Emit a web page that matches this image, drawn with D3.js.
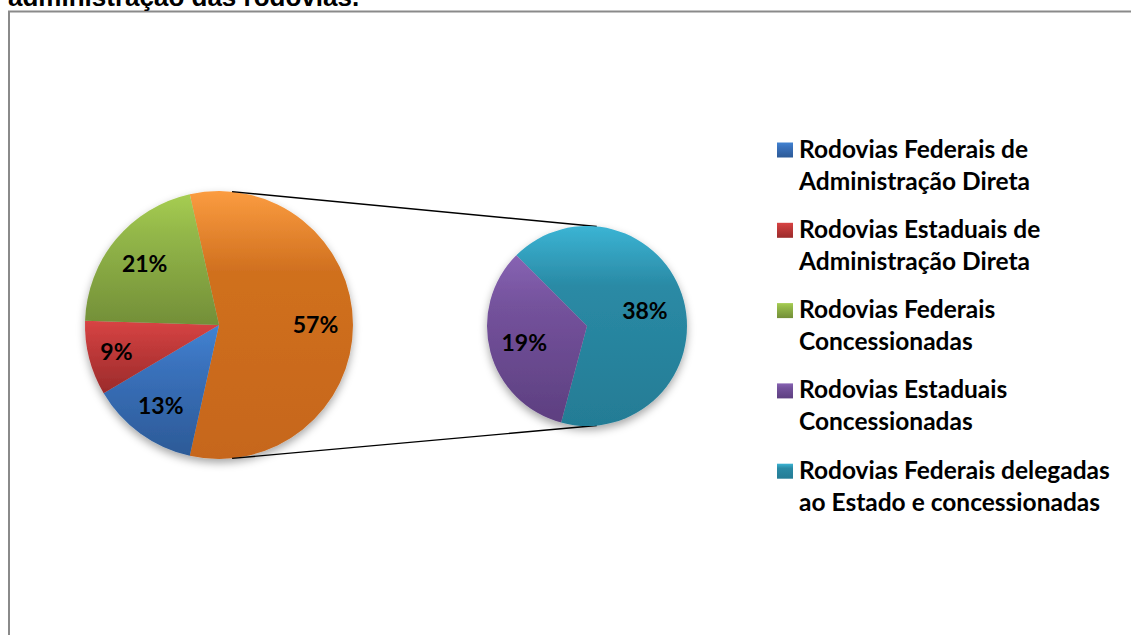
<!DOCTYPE html>
<html>
<head>
<meta charset="utf-8">
<script src="https://cdn.jsdelivr.net/npm/d3@7"></script>
<style>
  html, body { margin: 0; padding: 0; background: #ffffff; overflow: hidden; }
  svg { display: block; }
</style>
</head>
<body>
<svg id="chart" width="1131" height="635"></svg>
<script>
// ---- data ----
const categories = [
  "Rodovias Federais de Administração Direta",
  "Rodovias Estaduais de Administração Direta",
  "Rodovias Federais Concessionadas",
  "Rodovias Estaduais Concessionadas",
  "Rodovias Federais delegadas ao Estado e concessionadas"
];
const legendLines = [
  ["Rodovias Federais de", "Administração Direta"],
  ["Rodovias Estaduais de", "Administração Direta"],
  ["Rodovias Federais", "Concessionadas"],
  ["Rodovias Estaduais", "Concessionadas"],
  ["Rodovias Federais delegadas", "ao Estado e concessionadas"]
];
const values = [13, 9, 21, 19, 38];          // percent
const mainIdx = [0, 1, 2];                    // slices in first pie
const secondIdx = [4, 3];                     // slices in second pie (clockwise order)
const titleText = "administração das rodovias.";

// ---- styling ----
const colors = [
  ["#4283d2", "#3a72bd", "#2c5a97"],  // blue
  ["#d84444", "#c43b3b", "#9b2b2b"],  // red
  ["#a6cd52", "#93b749", "#738f38"],  // green
  ["#8763b3", "#74529c", "#5d3f80"],  // purple
  ["#3bb4d4", "#2a8aa5", "#247c95"]   // teal
];
const otherColor = ["#fb9c40", "#d0701f", "#c6661b"];

const svg = d3.select("#chart");
const defs = svg.append("defs");

function makeGrad(id, c) {
  const g = defs.append("linearGradient").attr("id", id)
    .attr("x1", 0).attr("y1", 0).attr("x2", 0).attr("y2", 1);
  g.append("stop").attr("offset", "0%").attr("stop-color", c[0]);
  g.append("stop").attr("offset", "30%").attr("stop-color", c[1]);
  g.append("stop").attr("offset", "100%").attr("stop-color", c[2]);
}
colors.forEach((c, i) => makeGrad("g" + i, c));
makeGrad("gOther", otherColor);

const shadow = defs.append("filter").attr("id", "shadow")
  .attr("x", "-20%").attr("y", "-20%").attr("width", "140%").attr("height", "150%");
shadow.append("feDropShadow").attr("dx", 0).attr("dy", 4)
  .attr("stdDeviation", 4).attr("flood-color", "#000").attr("flood-opacity", 0.35);

// frame + title
svg.append("rect").attr("x", 9).attr("y", 11.5).attr("width", 1200).attr("height", 700)
  .attr("fill", "none").attr("stroke", "#8a8a8a").attr("stroke-width", 2);
svg.append("text").attr("x", 8).attr("y", 6)
  .attr("font-family", "Liberation Sans, Arial, sans-serif")
  .attr("font-weight", "bold").attr("font-size", 26).attr("fill", "#000")
  .text(titleText);

const deg = Math.PI / 180;
const labelFont = "Lato, 'Open Sans', sans-serif";

// ---- first pie ----
const c1 = { x: 219, y: 325, r: 134 };
const otherValue = d3.sum(secondIdx, i => values[i]);
const pie1Data = [{ v: otherValue, idx: -1 }].concat(mainIdx.map(i => ({ v: values[i], idx: i })));
const start1 = 90 * deg - Math.PI * (otherValue / 100); // center "other" slice at 3 o'clock
const pie1 = d3.pie().sort(null).value(d => d.v).startAngle(start1).endAngle(start1 + 2 * Math.PI);
const arcs1 = pie1(pie1Data);
const arc1 = d3.arc().innerRadius(0).outerRadius(c1.r);

const g1 = svg.append("g").attr("transform", `translate(${c1.x},${c1.y})`);
g1.append("g").attr("filter", "url(#shadow)")
  .selectAll("path").data(arcs1).join("path")
  .attr("d", arc1)
  .attr("fill", d => d.data.idx < 0 ? "url(#gOther)" : `url(#g${d.data.idx})`);

const labR1 = [0.72, 0.74, 0.79, 0.72];
g1.selectAll("text").data(arcs1).join("text")
  .attr("transform", (d, i) => {
    const r = c1.r * labR1[i];
    return `translate(${d3.arc().innerRadius(r).outerRadius(r).centroid(d)})`;
  })
  .attr("text-anchor", "middle").attr("dy", "0.36em")
  .attr("font-family", labelFont).attr("font-weight", 700).attr("font-size", 23)
  .attr("fill", "#000")
  .text(d => d.data.v + "%");

// ---- second pie ----
const c2 = { x: 587, y: 326, r: 100 };
const pie2Data = secondIdx.map(i => ({ v: values[i], idx: i }));
const start2 = -45 * deg;
const pie2 = d3.pie().sort(null).value(d => d.v).startAngle(start2).endAngle(start2 + 2 * Math.PI);
const arcs2 = pie2(pie2Data);
const arc2 = d3.arc().innerRadius(0).outerRadius(c2.r);

// connector lines
const connAng = 5.6 * deg;
const pt = (c, a) => [c.x + c.r * Math.sin(a), c.y - c.r * Math.cos(a)];
[[connAng, connAng], [Math.PI - connAng, Math.PI - connAng]].forEach(([a1, a2]) => {
  const p1 = pt(c1, a1), p2 = pt(c2, a2);
  svg.append("line").attr("x1", p1[0]).attr("y1", p1[1]).attr("x2", p2[0]).attr("y2", p2[1])
    .attr("stroke", "#000").attr("stroke-width", 1.4);
});

const g2 = svg.append("g").attr("transform", `translate(${c2.x},${c2.y})`);
g2.append("g").attr("filter", "url(#shadow)")
  .selectAll("path").data(arcs2).join("path")
  .attr("d", arc2)
  .attr("fill", d => `url(#g${d.data.idx})`);

const labR2 = [0.6, 0.65];
g2.selectAll("text").data(arcs2).join("text")
  .attr("transform", (d, i) => {
    const r = c2.r * labR2[i];
    return `translate(${d3.arc().innerRadius(r).outerRadius(r).centroid(d)})`;
  })
  .attr("text-anchor", "middle").attr("dy", "0.36em")
  .attr("font-family", labelFont).attr("font-weight", 700).attr("font-size", 23)
  .attr("fill", "#000")
  .text(d => d.data.v + "%");

// ---- legend ----
const lg = svg.append("g").attr("transform", "translate(777,0)");
const items = lg.selectAll("g").data(categories).join("g")
  .attr("transform", (d, i) => `translate(0,${157.5 + i * 80.3})`);
items.append("rect").attr("x", 0).attr("y", -15).attr("width", 16).attr("height", 15)
  .attr("fill", (d, i) => `url(#g${i})`);
items.each(function (d, i) {
  const t = d3.select(this).append("text")
    .attr("font-family", labelFont).attr("font-weight", 700).attr("font-size", 24.5)
    .attr("fill", "#000");
  legendLines[i].forEach((line, k) => {
    t.append("tspan").attr("x", 22).attr("y", k * 32).text(line);
  });
});
</script>
</body>
</html>
